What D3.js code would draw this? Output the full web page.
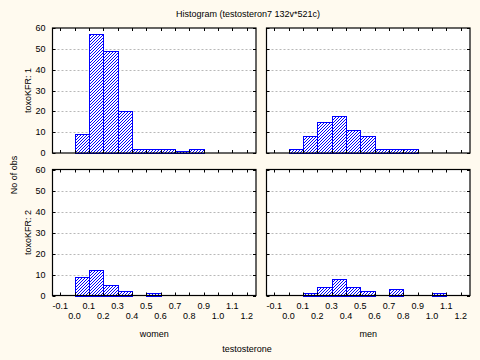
<!DOCTYPE html>
<html><head><meta charset="utf-8">
<script src="https://cdn.jsdelivr.net/npm/d3@7"></script>
<style>
html,body{margin:0;padding:0;background:#fffaef;}
svg{display:block;}
text{font-family:"Liberation Sans",Arial,sans-serif;font-size:9px;fill:#000;}
</style></head>
<body>
<svg id="c" width="480" height="360"></svg>
<script>
const title = "Histogram (testosteron7 132v*521c)";
const xTitle = "testosterone";
const yTitle = "No of obs";
const colLabels = ["women", "men"];
const rowLabels = ["toxoKFR: 1", "toxoKFR: 2"];
const binStarts = [0.0, 0.1, 0.2, 0.3, 0.4, 0.5, 0.6, 0.7, 0.8, 0.9, 1.0, 1.1];
const binWidth = 0.1;
const womenTox1 = [9, 57, 49, 20, 2, 2, 2, 1, 2, 0, 0, 0];
const menTox1   = [2, 8, 15, 18, 11, 8, 2, 2, 2, 0, 0, 0];
const womenTox2 = [9, 12, 5, 2, 0, 1, 0, 0, 0, 0, 0, 0];
const menTox2   = [0, 1, 4, 8, 4, 2, 0, 3, 0, 0, 1, 0];
const xTicks = [-0.1, 0.0, 0.1, 0.2, 0.3, 0.4, 0.5, 0.6, 0.7, 0.8, 0.9, 1.0, 1.1, 1.2];
const yTicks = [0, 10, 20, 30, 40, 50, 60];

const panels = [
  {r:0, c:0, data: womenTox1},
  {r:0, c:1, data: menTox1},
  {r:1, c:0, data: womenTox2},
  {r:1, c:1, data: menTox2}
];
const colX = [[52.5, 256], [266.5, 470]];
const rowY = [[28, 153], [169.5, 295.5]];

const svg = d3.select("#c");
const defs = svg.append("defs");
const pat = defs.append("pattern").attr("id","hatch").attr("patternUnits","userSpaceOnUse")
  .attr("width",3).attr("height",3);
pat.append("rect").attr("width",3).attr("height",3).attr("fill","#fff");
pat.append("path").attr("d","M-1,1 L1,-1 M0,3 L3,0 M2,4 L4,2")
  .attr("stroke","#0000ff").attr("stroke-width",1).attr("shape-rendering","auto");

svg.append("text").attr("x",248).attr("y",17).attr("text-anchor","middle").text(title);

panels.forEach(p => {
  const [x0,x1] = colX[p.c], [y0,y1] = rowY[p.r];
  const x = d3.scaleLinear().domain([-0.1535, 1.265]).range([x0, x1]);
  const y = d3.scaleLinear().domain([0, 60]).range([y1, y0]);
  const g = svg.append("g");
  g.append("rect").attr("x",x0).attr("y",y0).attr("width",x1-x0).attr("height",y1-y0).attr("fill","#fff");
  // grid
  g.selectAll("line.grid").data(yTicks.filter(v=>v>0 && v<60)).enter().append("line")
    .attr("x1",x0+1).attr("x2",x1-1).attr("y1",d=>Math.round(y(d))+0.5).attr("y2",d=>Math.round(y(d))+0.5)
    .attr("stroke","#b8b8b8").attr("stroke-dasharray","2,2");
  // bars
  const bars = binStarts.map((b,i)=>({b, v:p.data[i]})).filter(d=>d.v>0);
  g.selectAll("rect.bar").data(bars).enter().append("rect")
    .attr("x",d=>Math.round(x(d.b))+0.5)
    .attr("y",d=>Math.round(y(d.v))+0.5)
    .attr("width",d=>Math.round(x(d.b+binWidth))-Math.round(x(d.b)))
    .attr("height",d=>Math.round(y(0))-Math.round(y(d.v)))
    .attr("fill","url(#hatch)").attr("stroke","#0000ff").attr("stroke-width",1);
  // border
  g.append("rect").attr("x",x0).attr("y",y0).attr("width",x1-x0).attr("height",y1-y0)
    .attr("fill","none").attr("stroke","#000").attr("stroke-width",1.2);
  // inward ticks: x top and bottom
  const tl = 3;
  xTicks.forEach(t => {
    const xx = Math.round(x(t))+0.5;
    g.append("line").attr("x1",xx).attr("x2",xx).attr("y1",y0).attr("y2",y0+tl).attr("stroke","#000");
    g.append("line").attr("x1",xx).attr("x2",xx).attr("y1",y1).attr("y2",y1-tl).attr("stroke","#000");
  });
  yTicks.forEach(t => {
    const yy = Math.round(y(t))+0.5;
    g.append("line").attr("x1",x0).attr("x2",x0+tl).attr("y1",yy).attr("y2",yy).attr("stroke","#000");
    g.append("line").attr("x1",x1).attr("x2",x1-tl).attr("y1",yy).attr("y2",yy).attr("stroke","#000");
  });
  if (p.c === 0) {
    g.selectAll("text.yl").data(yTicks).enter().append("text")
      .attr("x",x0-7).attr("y",d=>y(d)+3).attr("text-anchor","end").text(d=>d);
    g.append("text").attr("transform",`translate(31,${(y0+y1)/2}) rotate(-90)`)
      .attr("text-anchor","middle").text(rowLabels[p.r]);
  }
  if (p.r === 1) {
    xTicks.forEach((t,i) => {
      g.append("text").attr("x",x(t)).attr("y", i%2===0 ? 309 : 319)
        .attr("text-anchor","middle").text(d3.format(".1f")(t).replace("−","-"));
    });
    g.append("text").attr("x",(x0+x1)/2).attr("y",337).attr("text-anchor","middle").text(colLabels[p.c]);
  }
});
svg.append("text").attr("transform","translate(17,175) rotate(-90)").attr("text-anchor","middle").text(yTitle);
svg.append("text").attr("x",247).attr("y",352).attr("text-anchor","middle").text(xTitle);
</script>
</body></html>
